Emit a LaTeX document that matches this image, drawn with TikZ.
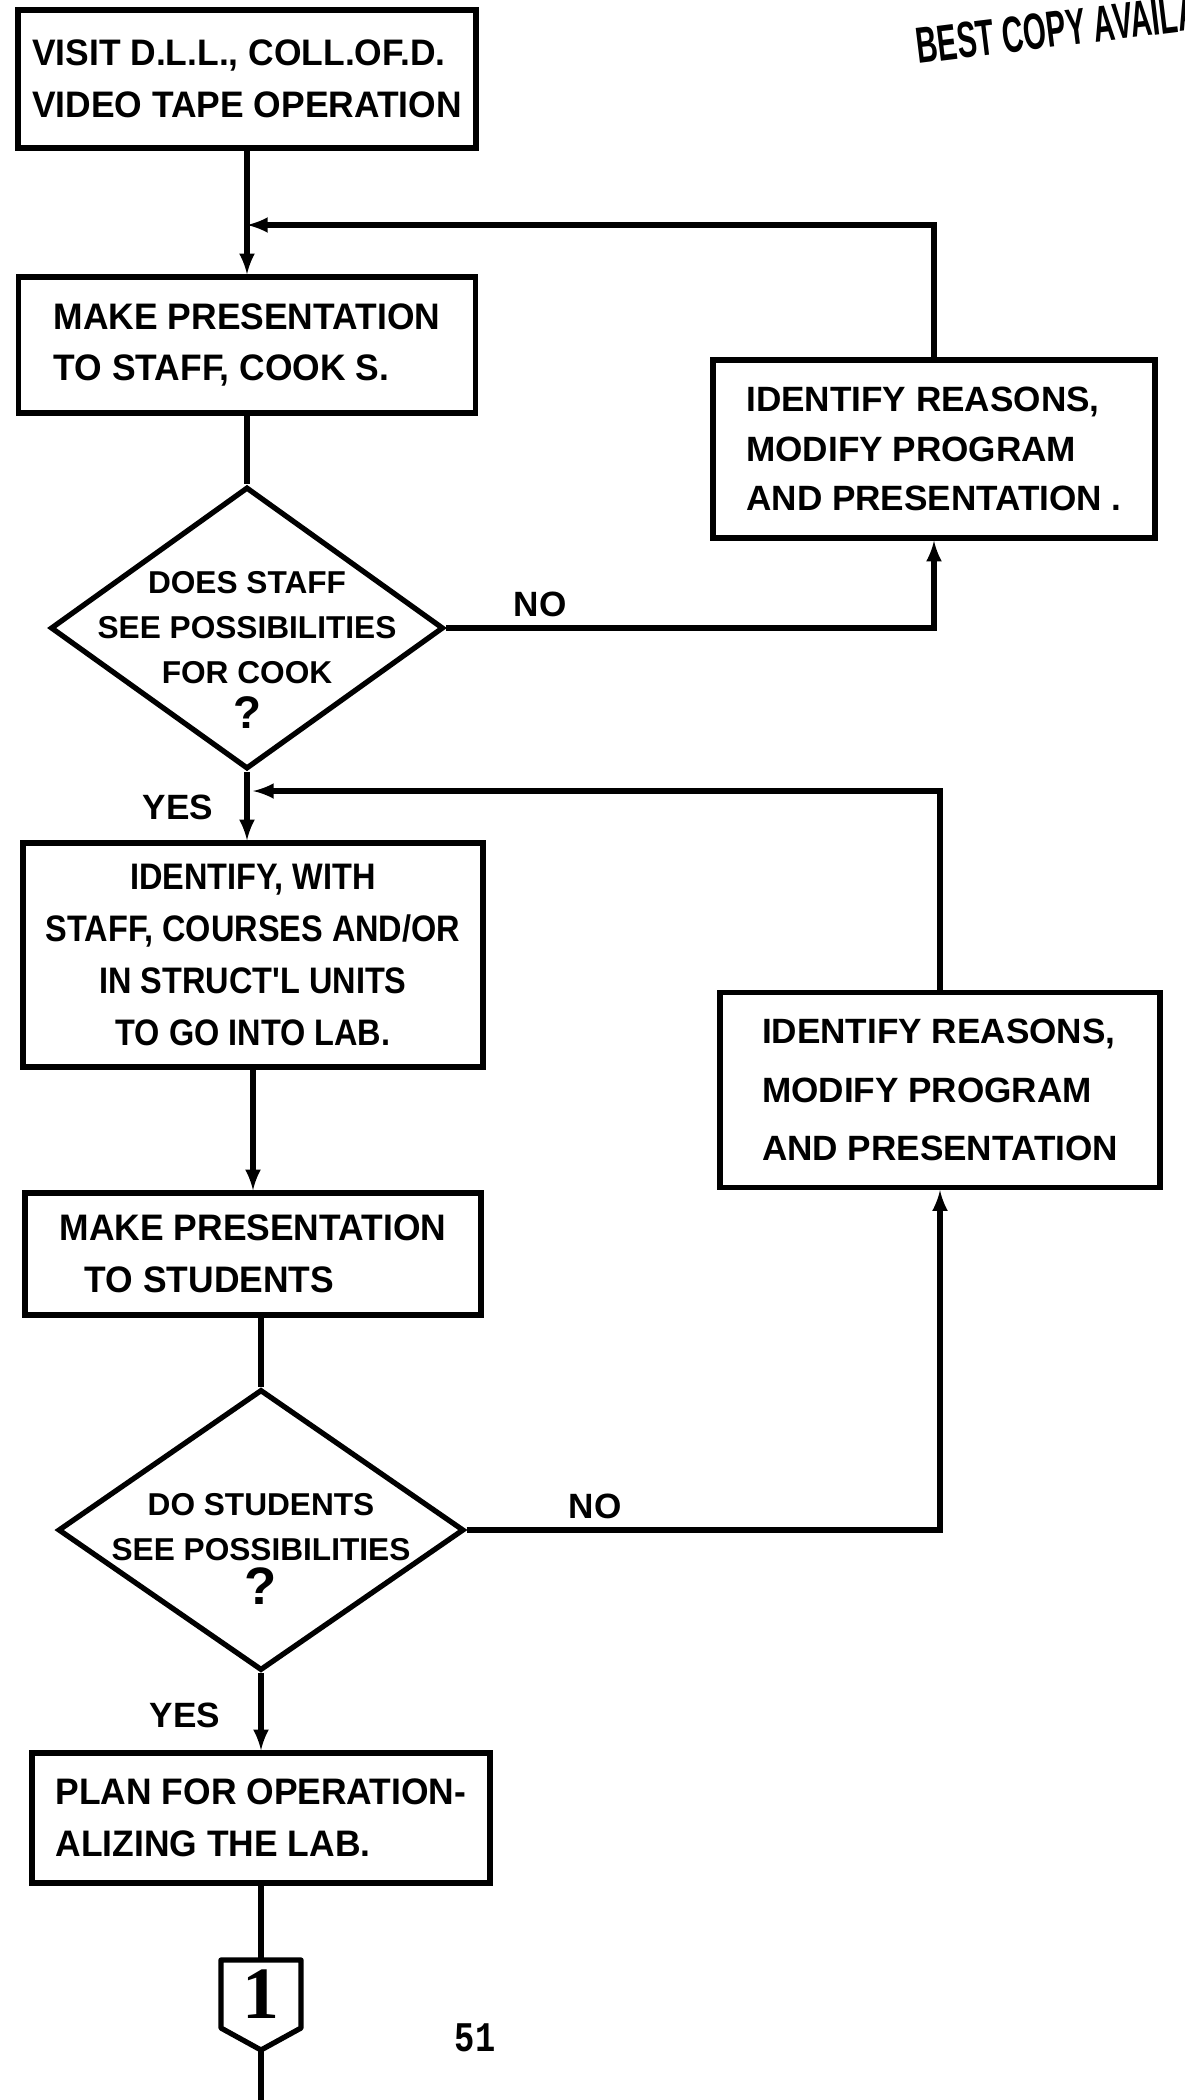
\documentclass[tikz,border=0pt]{standalone}
\usepackage{fontspec}
\setmainfont{Liberation Sans}
\newfontfamily\handfont{Liberation Sans}[FakeStretch=0.96]
\newfontfamily\handnarrow{Liberation Sans}[FakeStretch=0.88]
\newfontfamily\handwide{Liberation Sans}
\newfontfamily\numfont{Liberation Serif}
\newfontfamily\typefont{Liberation Mono}[FakeStretch=0.8]
\newfontfamily\stampfont{Liberation Sans}[FakeStretch=0.58]
\usetikzlibrary{arrows}
\usetikzlibrary{shapes.geometric}
\usetikzlibrary{math}

\tikzset{
  stepbox/.style={draw, line width=3pt, inner sep=0pt, align=left,
    font=\handfont\bfseries\fontsize{21}{29.5}\selectfont},
  reasonbox/.style={stepbox, font=\handwide\bfseries\fontsize{20}{28}\selectfont},
  decision/.style={draw, diamond, line width=3pt, inner sep=0pt},
  qtext/.style={align=center, inner sep=0pt,
    font=\handwide\bfseries\fontsize{18}{25.5}\selectfont},
  lbl/.style={inner sep=0pt, font=\handwide\bfseries\fontsize{20}{24}\selectfont},
  flow/.style={-latex, line width=3pt},
  link/.style={line width=3pt},
}

\begin{document}
\begin{tikzpicture}[x=0.02cm, y=-0.02cm]
\tikzmath{
\colA=247;
\colB=253;
\colC=261;
\colR=934;
\colS=940;
}
\useasboundingbox (0,0) rectangle (1185,2100);

% main column
\node[stepbox, minimum width=9.16cm, minimum height=2.76cm] (visit) at (\colA,79)
  {VISIT D.L.L., COLL.OF.D.\\VIDEO TAPE OPERATION};
\node[stepbox, minimum width=9.14cm, minimum height=2.72cm] (staff) at (\colA,345)
  {MAKE PRESENTATION\\TO STAFF, COOK S.};
\node[decision, minimum width=7.86cm, minimum height=5.64cm] (staffq) at (\colA,628) {};
\node[qtext] (staffqtxt) at (\colA,650)
  {DOES STAFF\\SEE POSSIBILITIES\\FOR COOK\\{\fontsize{26}{26}\selectfont ?}};

\node[stepbox, align=center, font=\handnarrow\bfseries\fontsize{21}{29.5}\selectfont,
  minimum width=9.2cm, minimum height=4.48cm] (units) at (\colB,955)
  {IDENTIFY, WITH\\STAFF, COURSES AND/OR\\IN STRUCT'L UNITS\\TO GO INTO LAB.};
\node[stepbox, minimum width=9.12cm, minimum height=2.44cm] (students) at (\colB,1254)
  {MAKE PRESENTATION\\\hspace*{0.5cm}TO STUDENTS};
\node[decision, minimum width=8.12cm, minimum height=5.62cm] (studq) at (\colC,1530) {};
\node[qtext] (studqtxt) at (\colC,1549)
  {DO STUDENTS\\SEE POSSIBILITIES\\{\fontsize{30}{30}\selectfont ?}};

\node[stepbox, minimum width=9.16cm, minimum height=2.6cm] (plan) at (\colC,1818)
  {PLAN FOR OPERATION-\\ALIZING THE LAB.};

% side boxes
\node[reasonbox, minimum width=8.84cm, minimum height=3.56cm] (reasonA) at (\colR,449)
  {IDENTIFY REASONS,\\MODIFY PROGRAM\\AND PRESENTATION .};
\node[reasonbox, font=\handwide\bfseries\fontsize{20}{33.5}\selectfont,
  minimum width=8.8cm, minimum height=3.9cm] (reasonB) at (\colS,1090)
  {IDENTIFY REASONS,\\MODIFY PROGRAM\\AND PRESENTATION};

% off-page connector
\coordinate (conntop) at (\colC,1960);
\coordinate (conntip) at (\colC,2050);
\coordinate (pageend) at (\colC,2100);
\draw[link, line join=round] (conntop) -- (\colC+40,1960) -- (\colC+40,2028) -- (conntip)
  -- (\colC-40,2028) -- (\colC-40,1960) -- cycle;
\node[font=\numfont\bfseries\fontsize{42}{42}\selectfont, inner sep=0pt] (conn) at (\colC,1994) {1};

% connectors
\coordinate (backA) at (\colA,225);
\coordinate (backB) at (\colB,791);

\draw[flow] (visit) -- (staff);
\draw[link] (staff) -- (staffq.north);
\draw[flow] (staffq.south) -- (staffq.south |- units.north);
\draw[flow] (staffq.east) -| (reasonA.south);
\draw[flow] (reasonA.north) |- (backA);

\draw[flow] (units) -- (students);
\draw[link] (studq.north |- students.south) -- (studq.north);
\draw[flow] (studq.south) -- (plan.north);
\draw[flow] (studq.east) -| (reasonB.south);
\draw[flow] (reasonB.north) |- (backB);

\draw[link] (plan.south) -- (conntop);
\draw[link] (conntip) -- (pageend);

\node[lbl] (noA) at (540,604) {NO};
\node[lbl] (yesA) at (178,807) {YES};
\node[lbl] (noB) at (595,1506) {NO};
\node[lbl] (yesB) at (185,1715) {YES};

\node[font=\typefont\bfseries\fontsize{24}{24}\selectfont, inner sep=0pt] (pagenum) at (475,2038) {51};

\begin{scope}
\clip (0,0) rectangle (1185,2100);
\node[font=\stampfont\bfseries\fontsize{29}{29}\selectfont, inner sep=0pt, anchor=base west,
  rotate=7] (stamp) at (918,64) {BEST COPY AVAILABLE};
\end{scope}

\end{tikzpicture}
\end{document}
